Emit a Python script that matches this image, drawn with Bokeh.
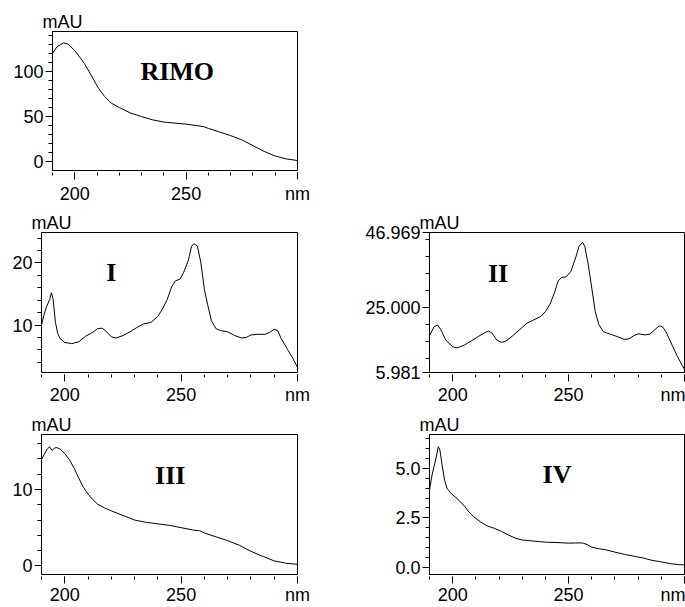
from bokeh.plotting import figure
from bokeh.models import Range1d, FixedTicker, Label
from bokeh.layouts import column, row
from bokeh.embed import file_html
from bokeh.resources import INLINE

# ---------------- data ----------------
rimo_nm = [190, 192, 195, 197, 200, 204.3, 207.3, 210.3, 213.3, 216.3, 220, 225, 230, 235, 240,
           245, 250, 255, 258, 260, 265, 270, 275, 280, 285, 290, 295, 300]
rimo_mau = [120, 127, 131.5, 130, 123, 108.7, 96, 82.6, 72.5, 65, 60, 54, 50, 46.4, 44,
            42.8, 41.7, 40, 38.8, 37, 33, 29, 24.3, 18, 11.6, 6.5, 3.3, 1.5]

i_nm = [190, 191, 192, 193.5, 194.3, 195, 196, 197, 198, 200, 203, 206, 209, 212, 214, 216, 218,
        220, 222, 225, 228, 231, 234, 237, 240, 242, 244, 246, 247.5, 249.5, 251, 253, 254.5,
        255.5, 257, 258.5, 260, 261.5, 263, 265, 267, 270, 273, 276, 278, 280, 283, 286, 288,
        290, 291.5, 293, 296, 298, 300]
i_mau = [10.0, 11.5, 12.8, 14.1, 15.2, 14.1, 10.4, 8.6, 7.8, 7.2, 7.0, 7.3, 8.2, 8.8, 9.4, 9.5, 8.9,
         8.1, 7.9, 8.3, 8.9, 9.6, 10.2, 10.4, 11.4, 12.6, 14.1, 16.2, 17.1, 17.4, 18.4, 20.3, 22.7,
         23.1, 22.7, 20.0, 15.7, 13.1, 10.7, 9.4, 9.1, 8.9, 8.3, 7.9, 8.0, 8.4, 8.5, 8.5, 8.8,
         9.3, 9.1, 7.8, 5.9, 4.6, 3.2]

ii_nm = [190, 192, 193.5, 195, 197, 200, 202, 205, 208, 211, 214, 215.5, 217, 219, 221, 223, 226,
         229, 232, 235, 238, 240, 242, 244, 245.5, 247, 249, 251, 253, 254.5, 256, 257, 258.5,
         260, 261.5, 263, 265, 268, 271, 274, 276, 278, 280, 283, 285, 287, 289, 290.5, 292,
         295, 297, 299, 300]
ii_mau = [16.8, 19.4, 19.9, 18.4, 15.5, 13.5, 13.2, 14.0, 15.2, 16.5, 17.7, 18.1, 17.5, 15.5, 14.8,
          15.2, 16.8, 18.6, 20.4, 21.4, 22.4, 23.8, 26.0, 29.5, 32.8, 33.8, 34.0, 35.6, 39.5, 42.9,
          44.1, 42.9, 37.5, 30.7, 23.8, 20.1, 17.9, 17.2, 16.5, 15.7, 15.8, 16.7, 17.3, 17.0, 17.2,
          18.4, 19.6, 19.4, 17.9, 13.5, 10.6, 8.1, 6.9]

iii_nm = [190, 191, 192.5, 193.5, 194.5, 195.5, 196.5, 198, 200, 202, 204, 206, 208, 210, 212, 214,
          217, 220, 225, 230, 235, 240, 245, 250, 255, 258, 260, 265, 270, 275, 280, 285, 290,
          295, 300]
iii_mau = [13.9, 14.5, 15.3, 15.6, 15.1, 15.4, 15.5, 15.3, 14.7, 13.9, 12.8, 11.5, 10.3, 9.4, 8.7,
           8.1, 7.6, 7.2, 6.6, 6.0, 5.7, 5.5, 5.3, 5.0, 4.7, 4.6, 4.3, 3.8, 3.3, 2.7, 1.9, 1.25,
           0.65, 0.35, 0.2]

iv_nm = [190, 191, 192, 193, 193.8, 194.5, 195.5, 196.5, 197.5, 199, 201, 203, 205, 207, 209, 212,
         215, 218, 221, 224, 227, 230, 235, 240, 245, 250, 253, 256, 258, 260, 263, 266, 270,
         274, 278, 282, 286, 290, 294, 298, 300]
iv_mau = [3.9, 4.6, 5.1, 5.6, 6.07, 5.9, 5.1, 4.4, 4.0, 3.76, 3.56, 3.35, 3.1, 2.8, 2.57, 2.3,
          2.1, 1.98, 1.83, 1.65, 1.49, 1.40, 1.34, 1.29, 1.27, 1.24, 1.25, 1.25, 1.17, 1.04, 0.96,
          0.91, 0.79, 0.68, 0.59, 0.50, 0.38, 0.30, 0.21, 0.16, 0.15]

x_major = [200, 250, 300]
x_minor = [190, 200, 210, 220, 230, 240, 250, 260, 270, 280, 290, 300]
x_labels = {300: "nm"}

SANS = "Liberation Sans"
SERIF = "Liberation Serif"
TICK_FS = "18px"


def panel(w, h, bl, br, bt, bb, ylo, yhi, yticks, yminor, ylabels, nm, mau, name, lx, ly, xstand):
    p = figure(width=w, height=h, output_backend="svg", toolbar_location=None,
               x_range=Range1d(190, 300), y_range=Range1d(ylo, yhi),
               min_border_left=bl, min_border_right=br, min_border_top=bt, min_border_bottom=bb)
    p.xgrid.visible = False
    p.ygrid.visible = False
    p.outline_line_color = "black"
    p.outline_line_width = 1
    p.outline_line_alpha = 1
    p.background_fill_color = "white"
    p.border_fill_color = "white"

    p.line(nm, mau, line_color="black", line_width=1)

    xa = p.xaxis[0]
    xa.ticker = FixedTicker(ticks=x_major, minor_ticks=x_minor)
    xa.major_label_overrides = x_labels
    xa.major_tick_in = -2
    xa.major_tick_out = 9
    xa.minor_tick_in = -2
    xa.minor_tick_out = 5
    xa.major_label_standoff = xstand
    xa.major_label_text_font = SANS
    xa.major_label_text_font_size = TICK_FS
    xa.major_label_text_color = "black"
    xa.axis_line_color = "black"
    xa.major_tick_line_color = "black"
    xa.minor_tick_line_color = "black"

    ya = p.yaxis[0]
    ya.ticker = FixedTicker(ticks=yticks, minor_ticks=yminor)
    ya.major_label_overrides = ylabels
    ya.major_tick_in = 0
    ya.major_tick_out = 7
    ya.minor_tick_in = 0
    ya.minor_tick_out = 4
    ya.major_label_standoff = 2
    ya.major_label_text_font = SANS
    ya.major_label_text_font_size = TICK_FS
    ya.major_label_text_color = "black"
    ya.axis_line_color = "black"
    ya.major_tick_line_color = "black"
    ya.minor_tick_line_color = "black"

    # unit label "mAU" above the y axis
    p.title.text = "mAU"
    p.title.align = "left"
    p.title.offset = -10
    p.title.standoff = 0
    p.title.text_font = SANS
    p.title.text_font_size = TICK_FS
    p.title.text_font_style = "normal"
    p.title.text_color = "black"

    p.add_layout(Label(x=lx, y=ly, text=name, text_font=SERIF, text_font_style="bold",
                       text_font_size="26px", text_color="black",
                       text_align="center", text_baseline="middle"))
    return p


# rows: 0-206 | 206-407 | 407-607
p_rimo = panel(350, 206, 52, 53, 31, 34, -9.5, 144, [0, 50, 100],
               [0, 10, 20, 30, 40, 50, 60, 70, 80, 90, 100, 110, 120, 130, 140], {},
               rimo_nm, rimo_mau, "RIMO", 246, 100.3, 4)
p_i = panel(350, 201, 41, 53, 26, 33, 2.35, 24.9, [10, 20],
            [4, 6, 8, 10, 12, 14, 16, 18, 20, 22, 24], {},
            i_nm, i_mau, "I", 220, 18.5, 3)
p_ii = panel(335, 201, 79, 1, 26, 33, 5.981, 46.969, [5.981, 25.0, 46.969],
             [10, 15, 20, 25, 30, 35, 40, 45], {5.981: "5.981", 25.0: "25.000", 46.969: "46.969"},
             ii_nm, ii_mau, "II", 219.6, 35.1, 3)
p_iii = panel(350, 200, 41, 53, 27, 31, -1.13, 17.2, [0, 10],
              [0, 2, 4, 6, 8, 10, 12, 14, 16], {},
              iii_nm, iii_mau, "III", 245.3, 11.8, 1)
p_iv = panel(335, 200, 79, 1, 27, 31, -0.33, 6.68, [0, 2.5, 5.0],
             [0, 0.5, 1, 1.5, 2, 2.5, 3, 3.5, 4, 4.5, 5, 5.5, 6, 6.5], {0: "0.0", 2.5: "2.5", 5.0: "5.0"},
             iv_nm, iv_mau, "IV", 245, 4.67, 1)

layout = column(row(p_rimo), row(p_i, p_ii), row(p_iii, p_iv), spacing=0)

open("out.html", "w").write(file_html(layout, INLINE))
